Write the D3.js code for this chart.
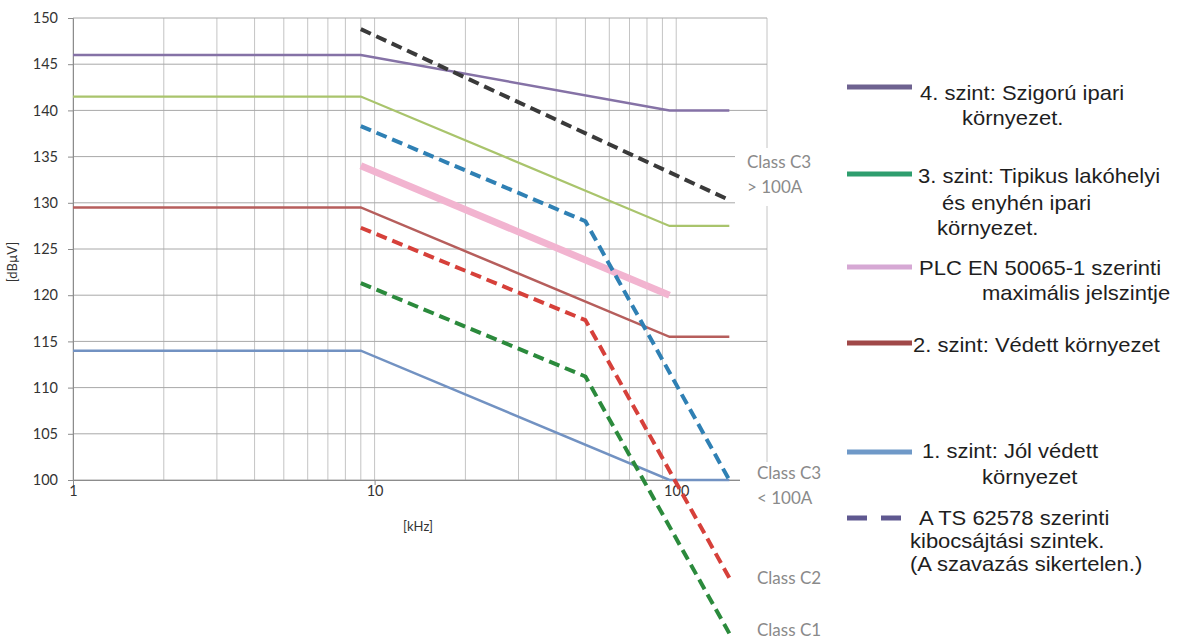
<!DOCTYPE html>
<html>
<head>
<meta charset="utf-8">
<script src="https://cdn.jsdelivr.net/npm/d3@7"></script>
<style>
  html, body { margin: 0; padding: 0; background: #fff; }
  svg { display: block; }
</style>
</head>
<body>
<svg id="chart" width="1189" height="639"></svg>
<script>
// Frequency axis ticks (kHz) and level ticks (dBµV)
const xTickValues = [1, 10, 100];
const xTickLabels = ["1", "10", "100"];
const yTickValues = [100, 105, 110, 115, 120, 125, 130, 135, 140, 145, 150];
const gridFreqs = [1,2,3,4,5,6,7,8,9,10,20,30,40,50,60,70,80,90,100,200];

// Immunity levels (solid lines)
const levelFreq = [1, 9, 95, 150];
const level4 = [146, 146, 140, 140];
const level3 = [141.5, 141.5, 127.5, 127.5];
const level2 = [129.5, 129.5, 115.5, 115.5];
const level1 = [114, 114, 100, 100];

// PLC maximum signal level per EN 50065-1
const plcFreq = [9, 95];
const plcLevel = [134, 120];

// TS 62578 emission classes (dashed lines)
const c3HighFreq = [9, 150];
const c3High = [148.8, 130.3];
const classFreq = [9, 50, 150];
const c3Low = [138.3, 128, 100];
const c2 = [127.3, 117.3, 89.4];
const c1 = [121.3, 111.2, 83.4];

const svg = d3.select("#chart");
const x = d3.scaleLog().domain([1, 200]).range([73, 767]);
const y = d3.scaleLinear().domain([100, 150]).range([480, 18]);
const tickFont = "Lato, 'Liberation Sans', sans-serif";

// grid
const grid = svg.append("g");
grid.selectAll("line.v").data(gridFreqs).join("line")
  .attr("x1", d => x(d)).attr("x2", d => x(d))
  .attr("y1", y(150)).attr("y2", y(100))
  .attr("stroke", "#c4c4c4").attr("stroke-width", 1);
grid.selectAll("line.h").data(yTickValues).join("line")
  .attr("x1", x(1)).attr("x2", x(200))
  .attr("y1", d => y(d)).attr("y2", d => y(d))
  .attr("stroke", "#a8a8a8").attr("stroke-width", 1);

// axes
const yAxis = svg.append("g").attr("transform", `translate(${x(1)},0)`)
  .call(d3.axisLeft(y).tickValues(yTickValues).tickSize(5).tickPadding(10));
const xAxis = svg.append("g").attr("transform", `translate(0,${y(100)})`)
  .call(d3.axisBottom(x).tickValues(xTickValues)
    .tickFormat((d, i) => xTickLabels[i]).tickSize(5).tickPadding(8));
[yAxis, xAxis].forEach(a => {
  a.select(".domain").attr("stroke", "#8c8c8c");
  a.selectAll(".tick line").attr("stroke", "#8c8c8c");
  a.selectAll(".tick text").attr("fill", "#333")
    .style("font-family", tickFont).style("font-size", "14.5px");
});
xAxis.selectAll(".tick text").attr("dy", "0.2em");

svg.append("text").attr("x", 418).attr("y", 531).attr("text-anchor", "middle")
  .style("font-family", tickFont).style("font-size", "13px")
  .attr("fill", "#333").text("[kHz]");
svg.append("text").attr("transform", "translate(17,262) rotate(-90)").attr("text-anchor", "middle")
  .style("font-family", tickFont).style("font-size", "13px")
  .attr("fill", "#333").text("[dBµV]");

// class labels with white backing
const classLabels = [
  { lines: ["Class C3", "> 100A"], x: 747, y: 162, box: [735, 148, 70, 58] },
  { lines: ["Class C3", "< 100A"], x: 757, y: 473, box: [740, 462, 70, 50] },
  { lines: ["Class C2"], x: 757, y: 578, box: null },
  { lines: ["Class C1"], x: 757, y: 630, box: null }
];
classLabels.forEach(l => {
  if (l.box) svg.append("rect").attr("x", l.box[0]).attr("y", l.box[1])
    .attr("width", l.box[2]).attr("height", l.box[3]).attr("fill", "#fff");
});

const line = d3.line().x(d => x(d[0])).y(d => y(d[1]));
const zip = (xs, ys) => xs.map((v, i) => [v, ys[i]]);

const solid = [
  { f: levelFreq, v: level4, c: "#8572a6", w: 2.5 },
  { f: levelFreq, v: level3, c: "#a9c46c", w: 2.2 },
  { f: levelFreq, v: level2, c: "#b65e5c", w: 2.5 },
  { f: levelFreq, v: level1, c: "#7292c2", w: 2.5 }
];
const dashed = [
  { f: c3HighFreq, v: c3High, c: "#3a3a3a" },
  { f: classFreq, v: c3Low, c: "#2f80b4" },
  { f: classFreq, v: c2, c: "#d6403a" },
  { f: classFreq, v: c1, c: "#2b8a3c" }
];

svg.append("g").selectAll("path").data(solid).join("path")
  .attr("d", s => line(zip(s.f, s.v))).attr("fill", "none")
  .attr("stroke", s => s.c).attr("stroke-width", s => s.w);
svg.append("path").attr("d", line(zip(plcFreq, plcLevel))).attr("fill", "none")
  .attr("stroke", "#f2b4d0").attr("stroke-width", 7);
svg.append("g").selectAll("path").data(dashed).join("path")
  .attr("d", s => line(zip(s.f, s.v))).attr("fill", "none")
  .attr("stroke", s => s.c).attr("stroke-width", 4)
  .attr("stroke-dasharray", "11,6").attr("stroke-linejoin", "round");

classLabels.forEach(l => {
  const t = svg.append("text").attr("x", l.x).attr("y", l.y)
    .style("font-family", tickFont).style("font-size", "17px")
    .attr("fill", "#8a8a8a");
  l.lines.forEach((s, i) => t.append("tspan").attr("x", l.x)
    .attr("y", l.y + i * 25).attr("dy", "0.35em").text(s));
});

// legend
const legendItems = [
  { c: "#6e6290", dash: null, y: 87, lines: [["4. szint: Szigorú ipari", 920, 93], ["környezet.", 962, 118]] },
  { c: "#2e9e6e", dash: null, y: 174, lines: [["3. szint: Tipikus lakóhelyi", 918, 176], ["és enyhén ipari", 942, 203], ["környezet.", 937, 228]] },
  { c: "#d6a8d4", dash: null, y: 267, lines: [["PLC EN 50065-1 szerinti", 919, 268], ["maximális jelszintje", 982, 293]] },
  { c: "#a04848", dash: null, y: 343, lines: [["2. szint: Védett környezet", 913, 345]] },
  { c: "#6f99c8", dash: null, y: 452, lines: [["1. szint: Jól védett", 922, 451], ["környezet", 982, 477]] },
  { c: "#5f5890", dash: "20,14", y: 518, lines: [["A TS 62578 szerinti", 919, 518], ["kibocsájtási szintek.", 910, 541], ["(A szavazás sikertelen.)", 910, 564]] }
];
const lg = svg.append("g");
legendItems.forEach(it => {
  lg.append("line").attr("x1", 847).attr("x2", 912).attr("y1", it.y).attr("y2", it.y)
    .attr("stroke", it.c).attr("stroke-width", 5)
    .attr("stroke-dasharray", it.dash);
  it.lines.forEach(([s, lx, ly]) => lg.append("text")
    .attr("transform", `translate(${lx},${ly}) scale(1.1,1)`)
    .attr("dy", "0.35em").attr("fill", "#1e1e1e")
    .style("font-family", "'Liberation Sans', Arial, sans-serif").style("font-size", "20px")
    .text(s));
});
</script>
</body>
</html>
